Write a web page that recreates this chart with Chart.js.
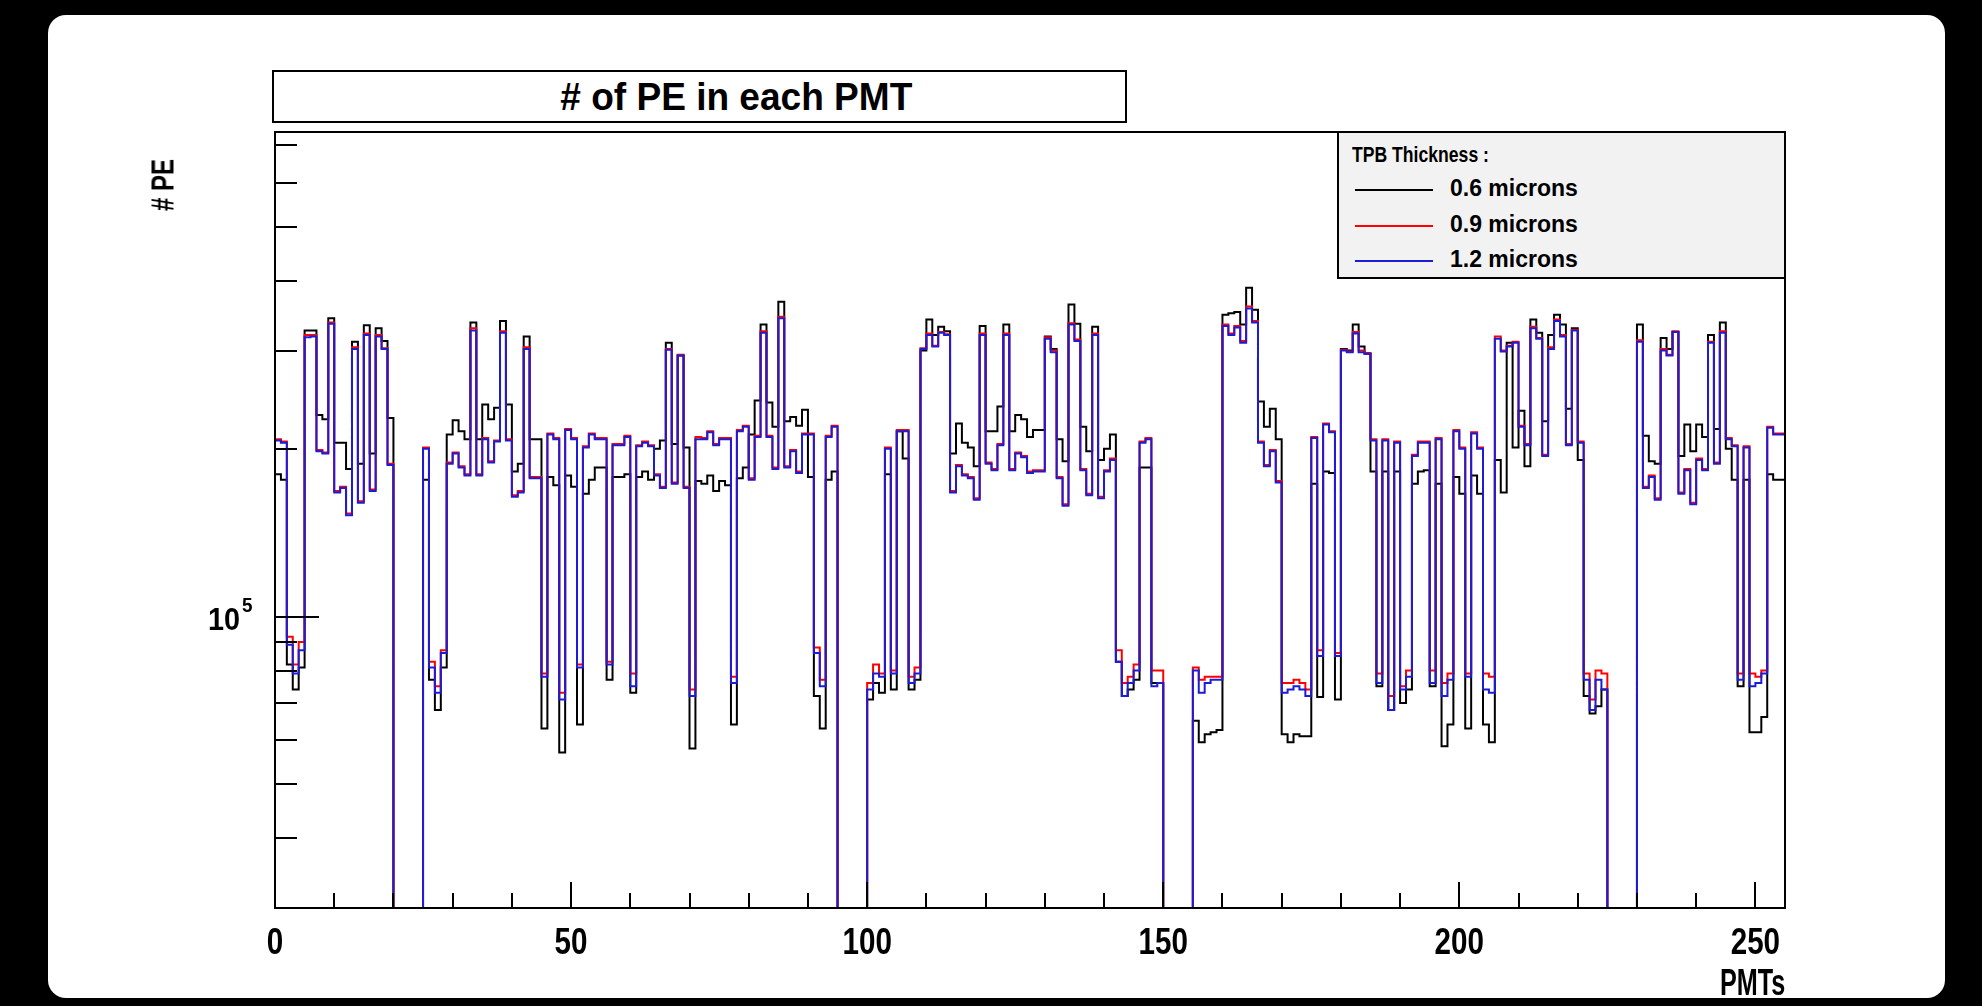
<!DOCTYPE html>
<html>
<head>
<meta charset="utf-8">
<script src="https://cdn.jsdelivr.net/npm/chart.js@4.4.1/dist/chart.umd.min.js"></script>
<style>
  html, body { margin: 0; padding: 0; background: #000; width: 1982px; height: 1006px; overflow: hidden;
               font-family: "Liberation Sans", Arial, sans-serif; font-weight: bold; color: #000; }
  #paper { position: absolute; left: 48px; top: 15px; width: 1897px; height: 983px; background: #fff; border-radius: 18px; }
  #chart { position: absolute; left: 0; top: 0; }
  #title { position: absolute; left: 272px; top: 70px; width: 777px; padding-left: 74px; height: 49px; border: 2px solid #000;
           background: #fff; font-size: 39px; text-align: center; line-height: 49px; }
  #title span { display: inline-block; transform: scaleX(0.95); }
  #legend { position: absolute; left: 1337px; top: 131px; width: 445px; height: 144px; border: 2px solid #000;
            background: #f2f2f2; font-size: 23px; }
  #legend .head { position: absolute; left: 13px; top: 9px; font-size: 22px; transform-origin: left center;
                  transform: scaleX(0.8); white-space: nowrap; }
  #legend .row { position: absolute; left: 16px; height: 28px; line-height: 28px; }
  #legend .row i { display: inline-block; width: 78px; height: 2px; vertical-align: middle; margin-right: 17px; }
  #ytitle { position: absolute; left: 163px; top: 185px; font-size: 32px; white-space: nowrap;
            transform: translate(-50%, -50%) rotate(-90deg) scaleX(0.75); }
  #xtitle { position: absolute; right: 197px; top: 962px; font-size: 36px; transform-origin: right center;
            transform: scaleX(0.7); }
</style>
</head>
<body>
<div id="paper"></div>
<canvas id="chart" width="1982" height="1006"></canvas>
<div id="title"><span># of PE in each PMT</span></div>
<div id="legend">
  <div class="head">TPB Thickness :</div>
  <div class="row" style="top:41px"><i style="background:#000"></i>0.6 microns</div>
  <div class="row" style="top:77px"><i style="background:#ff0000"></i>0.9 microns</div>
  <div class="row" style="top:112px"><i style="background:#1c1cd6"></i>1.2 microns</div>
</div>
<div id="ytitle"># PE</div>
<div id="xtitle">PMTs</div>

<script>
// number of photo-electrons per PMT (thousands), one bin per PMT 0..254, 0 = empty bin
const pe06 = [
  180, 176, 82, 74, 81, 326, 326, 230, 226, 343,
  205, 205, 184, 311, 188, 333, 196, 329, 312, 227,
  0, 0, 0, 0, 0, 176, 77, 68, 81, 212,
  225, 215, 208, 337, 208, 240, 226, 237, 339, 240,
  182, 188, 318, 208, 208, 63, 178, 172, 57, 179,
  171, 64, 166, 176, 185, 185, 77, 178, 178, 180,
  73, 178, 182, 176, 200, 207, 310, 204, 294, 201,
  58, 175, 173, 179, 168, 175, 172, 64, 177, 185,
  212, 244, 334, 242, 219, 367, 224, 228, 220, 235,
  178, 72, 63, 176, 182, 0, 0, 0, 0, 0,
  71, 76, 73, 180, 74, 215, 192, 74, 77, 300,
  341, 320, 331, 325, 196, 222, 205, 201, 186, 332,
  215, 215, 238, 334, 215, 230, 226, 210, 216, 216,
  318, 302, 208, 190, 363, 335, 219, 198, 331, 191,
  200, 212, 83, 72, 74, 77, 185, 185, 76, 76,
  0, 0, 0, 0, 0, 65, 59.5, 61.5, 62, 62.6,
  348, 350, 352, 334, 389, 355, 243, 219, 236, 208,
  61.5, 59.5, 61.5, 61, 61, 173, 71.7, 182, 181, 71,
  302, 300, 334, 305, 296, 182, 75, 182, 68, 182,
  70, 74, 173, 182, 183, 75, 173, 58.5, 64, 178,
  166, 63, 179, 166, 64, 59.5, 191, 167, 310, 201,
  234, 186, 341, 323, 224, 320, 348, 334, 236, 329,
  191, 72, 67, 69, 74, 0, 0, 0, 0, 0,
  334, 211, 190, 188, 316, 302, 324, 194, 221, 198,
  221, 210, 320, 217, 337, 200, 176, 75, 176, 62,
  62, 66, 180, 176, 176
];
const pe09 = [
  208, 206, 92, 82, 90, 320, 320, 199, 197, 337,
  168, 171, 153, 304, 161, 322, 169, 320, 303, 188,
  0, 0, 0, 0, 0, 201, 83, 75, 87, 189,
  197, 186, 180, 329, 180, 209, 190, 207, 325, 208,
  165, 168, 304, 178, 178, 79, 213, 209, 73, 217,
  209, 82, 202, 213, 209, 209, 83, 204, 204, 211,
  79, 203, 206, 203, 180, 171, 302, 174, 295, 171,
  74, 210, 209, 215, 204, 209, 209, 78, 216, 220,
  177, 211, 325, 211, 185, 345, 186, 199, 182, 213,
  213, 88, 77, 211, 220, 0, 0, 0, 0, 0,
  76, 82, 79, 201, 80, 216, 216, 78, 81, 303,
  322, 306, 324, 321, 168, 187, 180, 178, 163, 322,
  189, 184, 204, 322, 184, 197, 194, 182, 183, 183,
  317, 300, 178, 159, 336, 314, 184, 166, 322, 164,
  183, 192, 87, 76, 78, 82, 206, 209, 80, 80,
  0, 0, 0, 0, 0, 81, 77, 78, 78, 78,
  334, 322, 332, 312, 360, 339, 206, 187, 199, 175,
  76, 76, 77, 76, 74, 210, 87, 222, 215, 86,
  301, 299, 324, 300, 297, 208, 79, 208, 72, 206,
  75, 80, 195, 206, 206, 80, 209, 76, 79, 216,
  201, 79, 214, 201, 79, 78, 318, 300, 306, 311,
  220, 204, 331, 316, 195, 304, 341, 320, 204, 327,
  206, 79, 71, 80, 79, 0, 0, 0, 0, 0,
  313, 171, 179, 163, 302, 295, 325, 167, 184, 160,
  192, 184, 311, 189, 325, 209, 203, 79, 202, 79,
  78, 80, 219, 213, 213
];
const pe12 = [
  207, 205, 89, 79, 87, 317, 318, 198, 196, 335,
  167, 170, 152, 302, 160, 320, 168, 318, 302, 187,
  0, 0, 0, 0, 0, 200, 81, 73, 86, 188,
  196, 185, 179, 326, 179, 208, 189, 206, 323, 207,
  164, 167, 302, 177, 177, 78, 212, 208, 71, 216,
  208, 81, 201, 212, 208, 208, 82, 203, 203, 210,
  75, 202, 205, 202, 179, 170, 301, 173, 294, 170,
  72, 208, 208, 214, 203, 208, 208, 76, 215, 219,
  176, 210, 323, 210, 184, 343, 185, 198, 181, 212,
  212, 86, 75, 210, 219, 0, 0, 0, 0, 0,
  74, 79, 78, 200, 79, 215, 215, 76, 79, 302,
  320, 305, 323, 320, 167, 186, 179, 177, 162, 320,
  188, 183, 203, 320, 183, 196, 193, 181, 182, 182,
  315, 298, 177, 158, 334, 312, 183, 165, 320, 163,
  182, 191, 83, 72, 76, 80, 205, 208, 75, 76,
  0, 0, 0, 0, 0, 80, 73, 76, 77, 77,
  332, 320, 330, 310, 357, 337, 205, 186, 198, 174,
  73, 74, 75, 74, 72, 209, 85, 221, 214, 85,
  300, 298, 322, 298, 296, 207, 76, 207, 68, 205,
  74, 78, 194, 205, 205, 76, 208, 72, 77, 215,
  200, 78, 213, 200, 74, 73, 315, 299, 305, 310,
  219, 203, 329, 315, 194, 302, 339, 318, 203, 326,
  205, 77, 68, 77, 74, 0, 0, 0, 0, 0,
  311, 170, 178, 162, 300, 294, 324, 166, 183, 159,
  191, 183, 310, 188, 323, 208, 202, 77, 201, 75,
  76, 79, 218, 212, 212
];

// axis
const Y_MIN = 3e4;
const Y_MAX = 7.4e5;
const Y_TICKS = [3e4, 4e4, 5e4, 6e4, 7e4, 8e4, 9e4, 1e5, 2e5, 3e5, 4e5, 5e5, 6e5, 7e5];
const Y_LABEL = 1e5;
const X_MAX = 255;
const X_LABEL_STEP = 50;
const X_TICK_STEP = 10;

const FONT = '"Liberation Sans", Arial, sans-serif';

// histogram bins -> points for a stepped line (empty bins sit on the frame bottom)
function binPoints(vals) {
  const pts = vals.map((v, i) => ({ x: i, y: v > 0 ? v * 1000 : Y_MIN }));
  pts.push({ x: vals.length, y: pts[pts.length - 1].y });
  return pts;
}

// condensed bold text like the ROOT canvas
function squeezed(ctx, text, x, y, size, sx, align) {
  ctx.save();
  ctx.translate(x, y);
  ctx.scale(sx, 1);
  ctx.font = 'bold ' + size + 'px ' + FONT;
  ctx.textAlign = align;
  ctx.textBaseline = 'middle';
  ctx.fillText(text, 0, 0);
  ctx.restore();
}

// ROOT style frame, inward ticks and axis labels
const frameTicks = {
  id: 'frameTicks',
  afterDraw(chart) {
    const { ctx, chartArea: a, scales: { x, y } } = chart;
    ctx.save();
    ctx.strokeStyle = '#000';
    ctx.fillStyle = '#000';
    ctx.lineWidth = 2;
    ctx.beginPath();
    Y_TICKS.forEach(v => {
      const py = Math.round(y.getPixelForValue(v));
      const len = v === Y_LABEL ? 44 : 22;
      ctx.moveTo(a.left, py);
      ctx.lineTo(a.left + len, py);
    });
    for (let v = 0; v <= X_MAX; v += X_TICK_STEP) {
      const px = Math.round(x.getPixelForValue(v));
      const len = v % X_LABEL_STEP === 0 ? 26 : 15;
      ctx.moveTo(px, a.bottom);
      ctx.lineTo(px, a.bottom - len);
    }
    ctx.stroke();
    ctx.strokeRect(a.left, a.top, a.right - a.left, a.bottom - a.top);

    x.ticks.forEach(t => {
      squeezed(ctx, String(t.value), x.getPixelForValue(t.value), a.bottom + 36, 37, 0.8, 'center');
    });
    const py = y.getPixelForValue(Y_LABEL);
    squeezed(ctx, '10', a.left - 35, py + 5, 32, 0.9, 'right');
    squeezed(ctx, '5', a.left - 33, py - 10, 21, 0.9, 'left');
    ctx.restore();
  }
};

new Chart(document.getElementById('chart'), {
  type: 'line',
  data: {
    datasets: [
      { label: '1.2 microns', data: binPoints(pe12), borderColor: '#1c1cd6', order: 0 },
      { label: '0.9 microns', data: binPoints(pe09), borderColor: '#ff0000', order: 1 },
      { label: '0.6 microns', data: binPoints(pe06), borderColor: '#000000', order: 2 }
    ]
  },
  options: {
    responsive: false,
    animation: false,
    devicePixelRatio: 1,
    layout: { padding: { left: 0, top: 132, right: 197, bottom: 0 } },
    plugins: { legend: { display: false }, tooltip: { enabled: false } },
    elements: {
      point: { radius: 0 },
      line: { borderWidth: 2, tension: 0, stepped: true, fill: false }
    },
    scales: {
      x: {
        type: 'linear', min: 0, max: X_MAX,
        grid: { display: false }, border: { display: false },
        ticks: { display: false, stepSize: X_LABEL_STEP, includeBounds: false },
        afterFit(s) { s.height = 98; }
      },
      y: {
        type: 'logarithmic', min: Y_MIN, max: Y_MAX,
        grid: { display: false }, border: { display: false },
        afterBuildTicks(s) { s.ticks = Y_TICKS.map(v => ({ value: v })); },
        ticks: { display: false },
        afterFit(s) { s.width = 275; }
      }
    }
  },
  plugins: [frameTicks]
});
</script>
</body>
</html>
